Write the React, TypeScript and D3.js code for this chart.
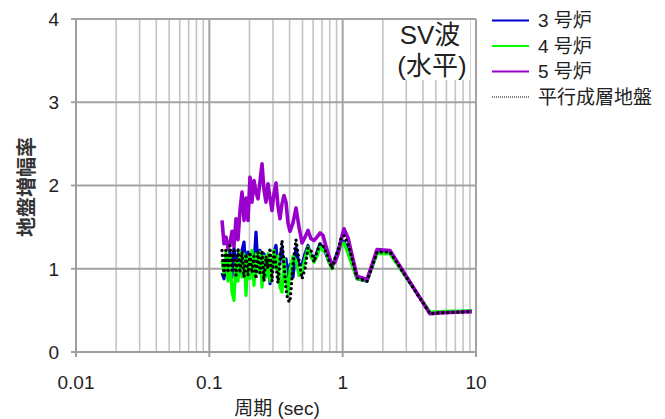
import React from "react";
import * as d3 from "d3";

const periods = [0.1245,0.1288,0.1334,0.138,0.1429,0.1479,0.1531,0.1585,0.1641,0.1698,0.1758,0.182,0.1884,0.195,0.2018,0.2089,0.2163,0.2239,0.2317,0.2399,0.2483,0.257,0.2661,0.2754,0.2851,0.2951,0.3055,0.3162,0.3273,0.3388,0.3508,0.3631,0.3758,0.389,0.4027,
0.4242,0.4467,0.4705,0.4955,0.5219,0.5495,0.5788,0.6095,0.6419,0.6761,0.712,0.7499,0.7898,0.8318,0.876,0.9226,0.9716,1.023,
1.097,1.281,1.522,1.81,2.265,4.519,5.37,6.38,7.59,9.33];

const unit3 = [0.95,0.88,1.15,0.92,1.20,0.90,1.25,0.95,1.18,1.05,1.22,1.32,0.95,1.20,0.98,1.18,1.05,1.44,1.00,1.22,0.95,1.18,0.92,1.10,0.82,1.05,1.20,1.28,1.00,1.15,1.25,0.95,1.12,0.85,1.05,
0.90,1.25,1.05,1.05,1.18,1.28,1.15,1.10,1.20,1.30,1.25,1.18,1.08,1.02,1.12,1.22,1.32,1.33,
1.22,0.88,0.85,1.19,1.19,0.47,0.475,0.48,0.485,0.49];

const unit4 = [1.10,0.95,1.20,0.85,1.15,0.72,0.62,1.10,0.85,1.20,0.90,1.18,0.68,1.15,0.88,1.22,0.80,1.18,0.95,1.20,0.78,1.15,0.90,1.18,0.85,1.10,1.22,1.00,1.15,0.78,0.72,1.12,0.90,0.70,0.98,
1.15,1.10,0.92,0.95,1.12,1.26,1.15,1.08,1.15,1.26,1.22,1.20,1.08,1.00,1.10,1.18,1.28,1.31,
1.18,0.88,0.86,1.18,1.18,0.48,0.485,0.49,0.49,0.495];

const unit5 = [1.58,1.30,1.38,1.25,1.30,1.45,1.27,1.60,1.35,1.70,1.92,1.58,1.85,1.58,2.10,1.80,2.06,1.92,1.84,2.05,2.26,1.95,1.80,2.02,1.85,1.70,1.90,2.03,1.75,1.60,1.78,1.88,1.80,1.55,1.45,
1.55,1.73,1.50,1.31,1.38,1.46,1.36,1.34,1.38,1.43,1.40,1.27,1.15,1.05,1.08,1.18,1.35,1.48,
1.37,0.91,0.87,1.23,1.22,0.46,0.47,0.475,0.48,0.485];

const layered = [1.22,0.92,1.25,0.95,1.28,0.98,1.22,0.92,1.25,0.95,1.20,0.90,1.18,0.92,1.20,0.95,1.15,0.88,1.20,0.95,1.22,0.85,1.15,1.00,1.25,0.85,1.20,1.05,0.83,1.10,1.34,1.05,0.75,0.62,0.60,
1.05,1.35,1.10,0.88,1.00,1.25,1.22,1.08,1.20,1.30,1.28,1.20,1.10,1.00,1.12,1.22,1.36,1.40,
1.30,0.89,0.85,1.20,1.20,0.46,0.47,0.475,0.48,0.485];

const seriesNames = ["3 号炉", "4 号炉", "5 号炉", "平行成層地盤"];
const xTicks = [0.01, 0.1, 1, 10];
const xTickLabels = ["0.01", "0.1", "1", "10"];
const yTicks = [0, 1, 2, 3, 4];
const annotation = ["SV波", "(水平)"];
const xTitle = "周期 (sec)";
const yTitle = "地盤増幅率";

const FONT = "'Liberation Sans', Arial, 'Noto Sans CJK JP', sans-serif";

export default function App() {
  const x = d3.scaleLog().domain([0.01, 10]).range([76, 476]);
  const y = d3.scaleLinear().domain([0, 4]).range([352, 19]);

  const minor: number[] = [];
  [0.01, 0.1, 1].forEach((d) => {
    for (let k = 2; k <= 9; k++) minor.push(d * k);
  });

  const styles = [
    { color: "#0000CC", width: 3.2, dash: undefined as string | undefined, cap: "butt" },
    { color: "#00FF00", width: 3.2, dash: undefined, cap: "butt" },
    { color: "#9900CC", width: 3.6, dash: undefined, cap: "butt" },
    { color: "#000000", width: 3.4, dash: "0 5", cap: "round" },
  ];
  const data = [unit3, unit4, unit5, layered];

  const line = d3
    .line<number>()
    .x((_, i) => x(periods[i]))
    .y((v) => y(v));

  const legendY = [20.5, 46, 71.5, 97];

  return (
    <div style={{ position: "absolute", left: 0, top: 0 }}>
      <svg width={665} height={419} style={{ display: "block", background: "#fff" }} fontFamily={FONT}>
        {minor.map((d, i) => (
          <line key={"m" + i} x1={x(d)} x2={x(d)} y1={y(4)} y2={y(0)} stroke="#c4c4c4" strokeWidth={1.6} />
        ))}
        {xTicks.map((d, i) => (
          <line key={"M" + i} x1={x(d)} x2={x(d)} y1={y(4)} y2={y(0)} stroke="#a3a3a3" strokeWidth={2} />
        ))}
        {yTicks.map((d, i) => (
          <line key={"h" + i} x1={x(0.01)} x2={x(10)} y1={y(d)} y2={y(d)} stroke="#a3a3a3" strokeWidth={1.8} />
        ))}
        <line x1={x(0.01)} x2={x(0.01)} y1={y(4)} y2={y(0)} stroke="#9e9e9e" strokeWidth={2} />
        <line x1={x(0.01)} x2={x(10)} y1={y(0)} y2={y(0)} stroke="#9e9e9e" strokeWidth={2} />
        {yTicks.map((d, i) => (
          <line key={"yt" + i} x1={71} x2={x(0.01)} y1={y(d)} y2={y(d)} stroke="#9e9e9e" strokeWidth={1.8} />
        ))}
        {xTicks.map((d, i) => (
          <line key={"xt" + i} x1={x(d)} x2={x(d)} y1={y(0)} y2={y(0) + 5} stroke="#9e9e9e" strokeWidth={2} />
        ))}
        {yTicks.map((d, i) => (
          <text key={"yl" + i} x={59} y={y(d)} dy="0.36em" textAnchor="end" fontSize={19} fill="#222">
            {d}
          </text>
        ))}
        {xTicks.map((d, i) => (
          <text key={"xl" + i} x={x(d)} y={389} textAnchor="middle" fontSize={19} fill="#222">
            {xTickLabels[i]}
          </text>
        ))}
        <text x={277} y={415} textAnchor="middle" fontSize={19} fill="#222">
          {xTitle}
        </text>
        <text
          transform={`translate(27,187) rotate(-90)`}
          textAnchor="middle"
          dy="0.35em"
          fontSize={20}
          fontWeight="bold"
          fill="#333"
        >
          {yTitle}
        </text>
        {data.map((vals, si) => (
          <path
            key={"s" + si}
            d={line(vals) || ""}
            fill="none"
            stroke={styles[si].color}
            strokeWidth={styles[si].width}
            strokeDasharray={styles[si].dash}
            strokeLinecap={styles[si].cap as any}
            strokeLinejoin="round"
          />
        ))}
        <rect x={391} y={20} width={79} height={60} fill="#fff" />
        <text x={430} y={35} dy="0.36em" textAnchor="middle" fontSize={26} fill="#222">
          {annotation[0]}
        </text>
        <text x={432} y={66} dy="0.36em" textAnchor="middle" fontSize={26} fill="#222">
          {annotation[1]}
        </text>
        {seriesNames.map((name, i) => (
          <g key={"lg" + i}>
            <line
              x1={492}
              x2={529}
              y1={legendY[i]}
              y2={legendY[i]}
              stroke={styles[i].color}
              strokeWidth={i === 3 ? 1.2 : 2}
              strokeDasharray={i === 3 ? "1 1" : undefined}
            />
            <text x={538} y={legendY[i]} dy="0.36em" fontSize={19} fill="#222">
              {name}
            </text>
          </g>
        ))}
      </svg>
    </div>
  );
}
